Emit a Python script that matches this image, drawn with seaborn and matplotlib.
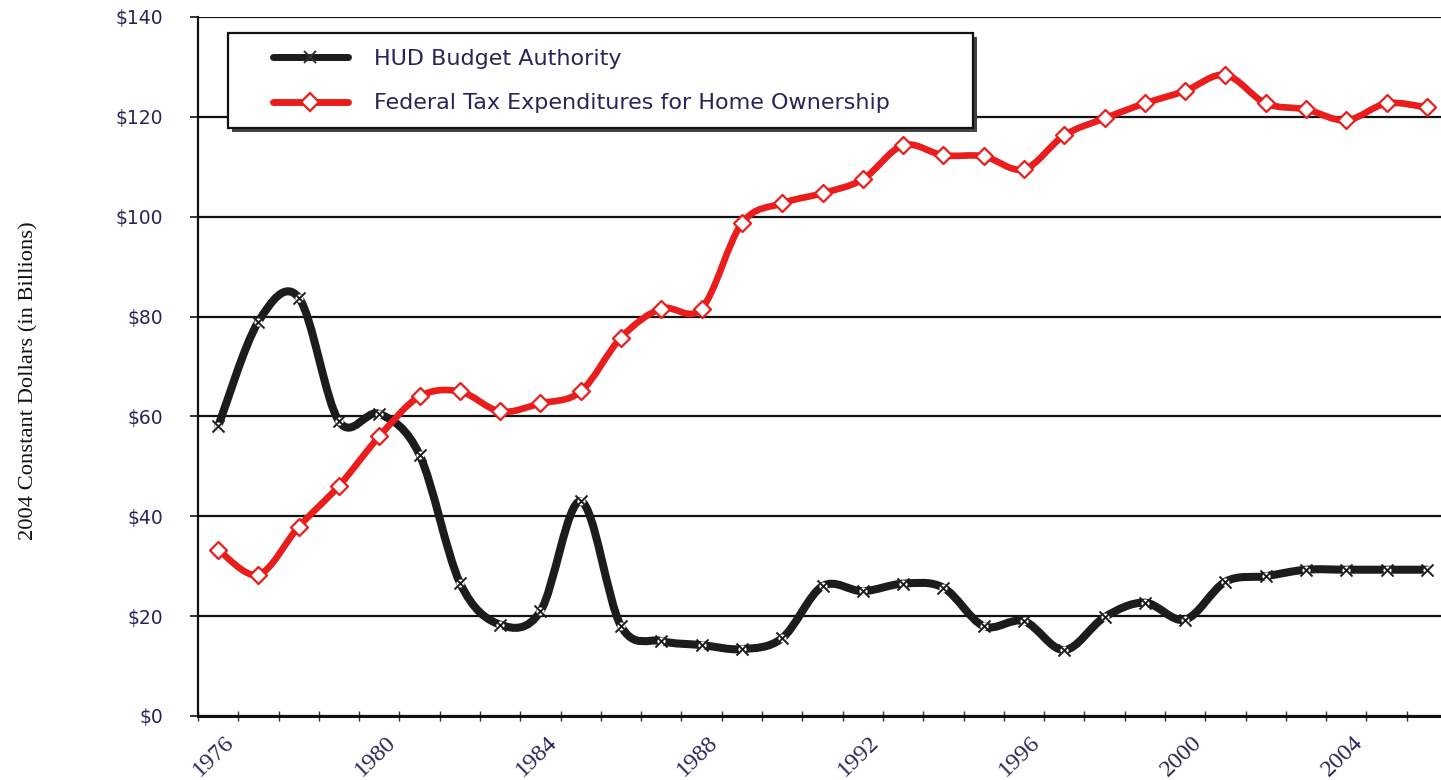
import numpy as np
import pandas as pd
import matplotlib
matplotlib.use("Agg")
import matplotlib.pyplot as plt
import seaborn as sns
from matplotlib.path import Path
from matplotlib.patches import PathPatch, Rectangle
from matplotlib.lines import Line2D
import matplotlib.transforms as mtransforms

# ---------------- data ----------------
years = list(range(1976, 2007))
hud_budget = [58, 79, 83.8, 59, 60.5, 52.3, 26.7, 18.3, 21, 43,
              18, 15, 14.2, 13.4, 15.6, 26, 25, 26.5, 25.7, 18,
              19, 13.2, 19.8, 22.7, 19.3, 26.9, 28, 29.3, 29.3, 29.3, 29.3]
tax_expend = [33.3, 28.3, 37.9, 46.1, 56, 64, 65, 61, 62.6, 65,
              75.8, 81.6, 81.6, 98.7, 102.7, 104.7, 107.5, 114.3, 112.3, 112.1,
              109.5, 116.3, 119.7, 122.7, 125.2, 128.4, 122.7, 121.5, 119.3, 122.7, 121.9]
series_names = ["HUD Budget Authority", "Federal Tax Expenditures for Home Ownership"]
y_ticks = [0, 20, 40, 60, 80, 100, 120, 140]
y_tick_labels = ["$0", "$20", "$40", "$60", "$80", "$100", "$120", "$140"]
x_label_years = [1976, 1980, 1984, 1988, 1992, 1996, 2000, 2004]
y_title = "2004 Constant Dollars (in Billions)"

df = pd.DataFrame({"year": years, "hud": hud_budget, "tax": tax_expend})

# ---------------- style ----------------
sns.set_theme(style="white")
plt.rcParams["font.family"] = ["DejaVu Sans"]

BLACK = "#1c1c1c"
RED = "#ea1d1d"
TXT = "#2a2558"

W, H = 1441, 780
fig = plt.figure(figsize=(W / 100, H / 100), dpi=100)
fig.patch.set_facecolor("white")
ax_left, ax_bottom, ax_w, ax_h = 198, 64, 1249, 699
ax = fig.add_axes([ax_left / W, ax_bottom / H, ax_w / W, ax_h / H])
ax.set_facecolor("white")


def smooth_path(x, y):
    x = np.asarray(x, float)
    y = np.asarray(y, float)
    n = len(x)
    verts = [(x[0], y[0])]
    codes = [Path.MOVETO]
    for i in range(n - 1):
        p0 = i - 1 if i > 0 else i
        p3 = i + 2 if i + 2 < n else i + 1
        c1 = (x[i] + (x[i + 1] - x[p0]) / 6.0, y[i] + (y[i + 1] - y[p0]) / 6.0)
        c2 = (x[i + 1] - (x[p3] - x[i]) / 6.0, y[i + 1] - (y[p3] - y[i]) / 6.0)
        verts += [c1, c2, (x[i + 1], y[i + 1])]
        codes += [Path.CURVE4] * 3
    return Path(verts, codes)


# grid
for v in y_ticks:
    ax.axhline(v, color="#111111", lw=1.6, zorder=1)

# smoothed lines
ax.add_patch(PathPatch(smooth_path(df["year"], df["hud"]), fill=False,
                       edgecolor=BLACK, lw=5.8, capstyle="round", joinstyle="round", zorder=3))
ax.add_patch(PathPatch(smooth_path(df["year"], df["tax"]), fill=False,
                       edgecolor=RED, lw=4.8, capstyle="round", joinstyle="round", zorder=3))

# markers
sns.scatterplot(data=df, x="year", y="hud", marker="o", s=34, color="white",
                linewidth=0, ax=ax, zorder=4, legend=False)
sns.scatterplot(data=df, x="year", y="hud", marker="x", s=75, color=BLACK,
                linewidth=1.4, ax=ax, zorder=5, legend=False)
sns.scatterplot(data=df, x="year", y="tax", marker="D", s=75, facecolor="white",
                edgecolor=RED, linewidth=1.6, ax=ax, zorder=5, legend=False)

ax.set_xlim(1975.5, 2006.5)
ax.set_ylim(0, 140)

# axes styling
for s in ["top", "right"]:
    ax.spines[s].set_visible(False)
ax.spines["left"].set_color("#111111")
ax.spines["left"].set_linewidth(1.6)
ax.spines["bottom"].set_color("#111111")
ax.spines["bottom"].set_linewidth(2.2)
ax.spines["left"].set_zorder(6)
ax.spines["bottom"].set_zorder(6)

ax.set_yticks(y_ticks)
ax.set_yticklabels(y_tick_labels, fontsize=13.5, color=TXT, family=["DejaVu Sans"])
ax.tick_params(axis="y", direction="out", length=6, width=1.2, color="#111111", pad=19, left=True)

ax.set_xticks(x_label_years)
ax.set_xticks(np.arange(1975.5, 2007, 1.0), minor=True)
ax.tick_params(axis="x", which="major", length=0, pad=8)
ax.tick_params(axis="x", which="minor", direction="inout", length=7, width=1.0,
               color="#333333", bottom=True)
ax.set_xticklabels([str(y) for y in x_label_years], rotation=44, ha="right",
                   rotation_mode="anchor", fontsize=17.5, color=TXT,
                   family=["Liberation Serif", "DejaVu Serif"])
offset = mtransforms.ScaledTranslation(6 / 100, -5 / 100, fig.dpi_scale_trans)
for lab in ax.get_xticklabels():
    lab.set_transform(lab.get_transform() + offset)

ax.set_xlabel("")
ax.set_ylabel("")
fig.text(29 / W, 1 - 381 / H, y_title, rotation=90, ha="center", va="center",
         fontsize=16.2, color="#111111", family=["Liberation Serif", "DejaVu Serif"])

# legend frame with shadow (pixel coordinates -> figure fraction)
def fx(px):
    return px / W


def fy(py):
    return 1 - py / H


lx0, ly0, lx1, ly1 = 228, 33, 973, 128
fig.patches.append(Rectangle((fx(lx0 + 4), fy(ly1 + 4)), fx(lx1 - lx0), (ly1 - ly0) / H,
                             transform=fig.transFigure, facecolor="#444444",
                             edgecolor="none", zorder=8))
fig.patches.append(Rectangle((fx(lx0), fy(ly1)), fx(lx1 - lx0), (ly1 - ly0) / H,
                             transform=fig.transFigure, facecolor="white",
                             edgecolor="#111111", lw=1.6, zorder=9))

handles = [
    Line2D([0], [0], color=BLACK, lw=5, marker="x", markersize=9,
           markeredgewidth=1.4, markeredgecolor="#333333", markerfacecolor="white"),
    Line2D([0], [0], color=RED, lw=5, marker="D", markersize=9,
           markeredgewidth=1.6, markeredgecolor=RED, markerfacecolor="white"),
]
leg = fig.legend(handles, series_names, loc="upper left",
                 bbox_to_anchor=(fx(257), fy(33)), frameon=False,
                 fontsize=16, handlelength=3.4, handletextpad=1.15,
                 labelspacing=1.12, borderpad=0.2)
leg.set_zorder(10)
for t in leg.get_texts():
    t.set_color(TXT)
    t.set_family(["DejaVu Sans"])

fig.savefig("out.png", dpi=100, facecolor="white")
